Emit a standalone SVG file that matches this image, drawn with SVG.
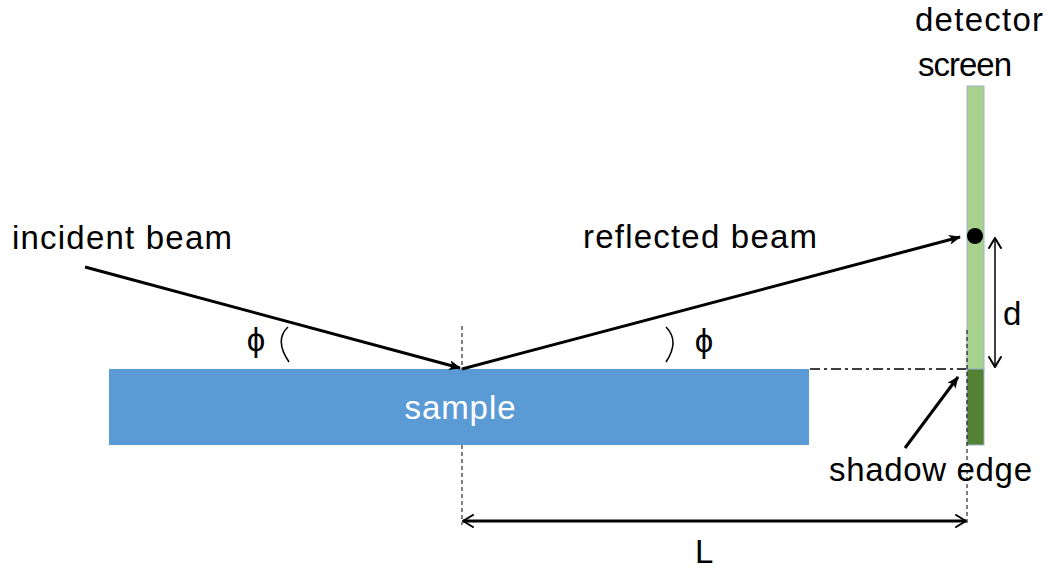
<svg xmlns="http://www.w3.org/2000/svg" width="1053" height="569" viewBox="0 0 1053 569">
<defs>
<style>
.t{font-family:"Liberation Sans",Arial,sans-serif;font-size:33px;fill:#000}
.beam{stroke:#000;stroke-width:3;fill:none}
.thin{stroke:#000;stroke-width:1.5;fill:none}
.dash{stroke:#000;stroke-width:1;stroke-dasharray:4 3;fill:none}
</style>
<marker id="ah" viewBox="0 0 12 10" refX="11" refY="5" markerWidth="12" markerHeight="10" markerUnits="userSpaceOnUse" orient="auto-start-reverse">
<path d="M0,0 L12,5 L0,10 L3,5 Z" fill="#000"/>
</marker>
<marker id="oa" viewBox="0 0 12 14" refX="11" refY="7" markerWidth="12" markerHeight="14" markerUnits="userSpaceOnUse" orient="auto-start-reverse">
<path d="M1,1 L11,7 L1,13" fill="none" stroke="#000" stroke-width="2" stroke-linecap="round"/>
</marker>
</defs>
<rect width="1053" height="569" fill="#fff"/>
<g id="guides">
<line class="dash" x1="462" y1="326" x2="462" y2="525"/>
</g>
<g id="sample">
<rect x="109" y="369" width="700" height="76" fill="#5B9BD5"/>
<text class="t" x="460" y="419" text-anchor="middle" style="fill:#fff" textLength="111">sample</text>
</g>
<g id="detector">
<rect x="967" y="86" width="17" height="283" fill="#A9D18E" stroke="#9DB4C8" stroke-width="1"/>
<rect x="967" y="369" width="17" height="76" fill="#548235" stroke="#9DB4C8" stroke-width="1"/>
<circle cx="975" cy="236" r="8" fill="#000"/>
<text class="t" x="915" y="31" textLength="128">detector</text>
<text class="t" x="918" y="76" textLength="94">screen</text>
</g>
<g id="connectors">
<line class="beam" x1="85" y1="267" x2="460" y2="368" marker-end="url(#ah)"/>
<line class="beam" x1="462" y1="369" x2="960" y2="237" marker-end="url(#ah)"/>
<line class="dash" x1="967" y1="330" x2="967" y2="525"/>
<line stroke="#000" stroke-width="1.5" stroke-dasharray="10 4 3 4" x1="810" y1="369" x2="966" y2="369"/>
<line class="thin" x1="995" y1="238" x2="995" y2="367" marker-start="url(#oa)" marker-end="url(#oa)"/>
<line class="beam" x1="463" y1="521" x2="966" y2="521" stroke-width="2.5" marker-start="url(#oa)" marker-end="url(#oa)"/>
<line class="beam" x1="905" y1="448" x2="958" y2="377" stroke-width="2.5" marker-end="url(#ah)"/>
<path class="thin" d="M288,327 Q274,340 289,362"/>
<path class="thin" d="M666,327 Q680,341 666,362"/>
</g>
<g id="labels">
<text class="t" x="12" y="249" textLength="220">incident beam</text>
<text class="t" x="583" y="248" textLength="234">reflected beam</text>
<text class="t" x="829" y="481" textLength="203">shadow edge</text>
<text class="t" x="1003" y="325">d</text>
<text class="t" x="695" y="563">L</text>
<text class="t" x="256" y="351" text-anchor="middle">ϕ</text>
<text class="t" x="704" y="352" text-anchor="middle">ϕ</text>
</g>
</svg>
